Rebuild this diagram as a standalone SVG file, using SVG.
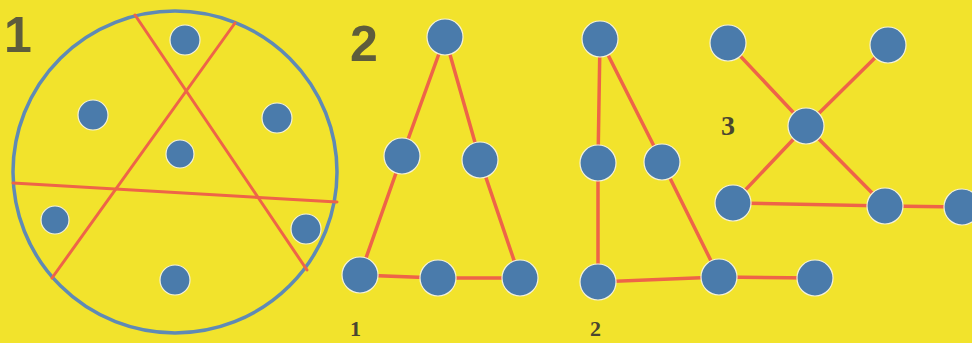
<svg xmlns="http://www.w3.org/2000/svg" width="972" height="343" viewBox="0 0 972 343">
<style>
.dot{fill:#4a7bab;stroke:#f4f1d8;stroke-width:1.2}
.ln{stroke:#ee6448;stroke-width:3.5;stroke-linecap:round;fill:none}
.big{font-family:"Liberation Sans",Arial,sans-serif;font-weight:bold;fill:#5e5c3c}
.sm{font-family:"Liberation Serif","Times New Roman",serif;font-weight:bold;fill:#4a4630}
</style>
<rect width="972" height="343" fill="#f2e32c"/>
<g id="panel1">
<text class="big" x="4" y="52" font-size="50">1</text>
<ellipse cx="175" cy="172" rx="162" ry="161" fill="none" stroke="#5f8ab5" stroke-width="3.5"/>
</g>
<g id="connectors">
<line class="ln" x1="135" y1="15" x2="307" y2="270" style="stroke-width:3"/>
<line class="ln" x1="235" y1="23" x2="52" y2="278" style="stroke-width:3"/>
<line class="ln" x1="13" y1="183" x2="337" y2="202" style="stroke-width:3"/>
<polyline class="ln" points="445,37 402,156 360,275 438,278 520,278 480,160 445,37"/>
<polyline class="ln" points="600,39 598,163 598,282 719,277 815,278"/>
<polyline class="ln" points="600,39 662,162 719,277"/>
<line class="ln" x1="728" y1="43" x2="806" y2="126"/>
<line class="ln" x1="888" y1="45" x2="806" y2="126"/>
<polyline class="ln" points="806,126 733,203 885,206 806,126"/>
<line class="ln" x1="885" y1="206" x2="962" y2="207"/>
</g>
<g id="p1-dots">
<circle id="d1" class="dot" cx="185" cy="40" r="15"/>
<circle id="d2" class="dot" cx="93" cy="115" r="15"/>
<circle id="d3" class="dot" cx="277" cy="118" r="15"/>
<circle id="d4" class="dot" cx="180" cy="154" r="14"/>
<circle id="d5" class="dot" cx="55" cy="220" r="14"/>
<circle id="d6" class="dot" cx="306" cy="229" r="15"/>
<circle id="d7" class="dot" cx="175" cy="280" r="15"/>
</g>
<g id="panel2-label">
<text class="big" x="350" y="61" font-size="50">2</text>
</g>
<g id="fig1">
<circle id="a1" class="dot" cx="445" cy="37" r="18"/>
<circle id="a2" class="dot" cx="402" cy="156" r="18"/>
<circle id="a3" class="dot" cx="480" cy="160" r="18"/>
<circle id="a4" class="dot" cx="360" cy="275" r="18"/>
<circle id="a5" class="dot" cx="438" cy="278" r="18"/>
<circle id="a6" class="dot" cx="520" cy="278" r="18"/>
<text class="sm" x="350" y="336" font-size="22">1</text>
</g>
<g id="fig2">
<circle id="b1" class="dot" cx="600" cy="39" r="18"/>
<circle id="b2" class="dot" cx="598" cy="163" r="18"/>
<circle id="b3" class="dot" cx="662" cy="162" r="18"/>
<circle id="b4" class="dot" cx="598" cy="282" r="18"/>
<circle id="b5" class="dot" cx="719" cy="277" r="18"/>
<circle id="b6" class="dot" cx="815" cy="278" r="18"/>
<text class="sm" x="590" y="336" font-size="22">2</text>
</g>
<g id="fig3">
<circle id="c1" class="dot" cx="728" cy="43" r="18"/>
<circle id="c2" class="dot" cx="888" cy="45" r="18"/>
<circle id="c3" class="dot" cx="806" cy="126" r="18"/>
<circle id="c4" class="dot" cx="733" cy="203" r="18"/>
<circle id="c5" class="dot" cx="885" cy="206" r="18"/>
<circle id="c6" class="dot" cx="962" cy="207" r="18"/>
<text class="sm" x="721" y="135" font-size="28">3</text>
</g>
</svg>
